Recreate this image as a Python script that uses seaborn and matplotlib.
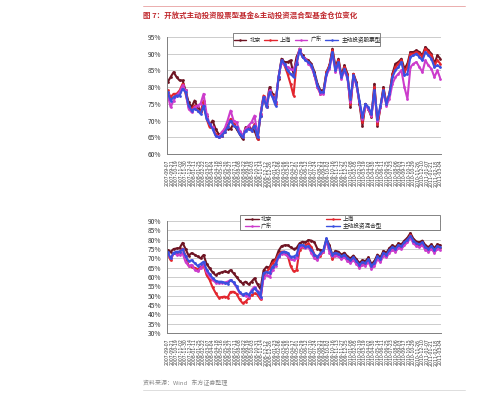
import numpy as np
import pandas as pd
import matplotlib
matplotlib.use('Agg')
import matplotlib.pyplot as plt
import seaborn as sns
from matplotlib.lines import Line2D
from matplotlib.patches import Rectangle
from matplotlib.ticker import FuncFormatter

sns.set_style('white')
plt.rcParams['font.family'] = ['Noto Sans CJK SC', 'DejaVu Sans']

title = '图 7：开放式主动投资股票型基金&主动投资混合型基金仓位变化'
source = '资料来源：Wind   东方证券整理'

dates = pd.date_range(end='2011-03-04', periods=92, freq='14D').strftime('%Y-%m-%d').tolist()

top_names = ['北京', '上海', '广东', '主动投资股票型']
bot_names = ['北京', '上海', '广东', '主动投资混合型']

top_bj = [81.5, 83, 84.5, 83, 82, 82, 79, 75.5, 74, 76, 74, 73, 74, 71.5, 68.5, 70, 67.5, 66, 65.5, 67.5,
          67.5, 67.5, 69, 67.5, 66, 64.5, 68, 68, 67.5, 67, 64.5, 71.5, 77, 74.5, 80, 78, 75.5, 82.5, 88.5, 87.5,
          87.5, 88, 84, 89, 91, 89.5, 88.5, 88, 87, 84.5, 81, 79, 79, 84.5, 86.5, 91.5, 86, 88.5, 83.5, 86.5,
          84, 74, 84, 81.5, 75, 68.5, 75, 73.5, 71, 81, 68.5, 74, 80, 75, 78, 84, 87, 87.5, 88.5, 85.5,
          87, 90.5, 90.5, 91, 90.5, 89.5, 92, 91, 90, 87, 89.5, 88.5]
top_sh = [79, 77, 78, 78, 79, 81, 78, 74, 73.5, 74.5, 73, 72.5, 76, 70.5, 68, 68, 66, 65, 65.5, 66.5,
          68.5, 70.5, 69, 68, 66.5, 65, 67.5, 67.5, 67, 69, 64.5, 72, 77.5, 74, 79, 77.5, 75, 83, 88, 86.5,
          84, 81, 77.5, 87, 91.5, 89, 88.5, 87.5, 86.5, 83.5, 80, 78, 78.5, 84.5, 86.5, 91, 85.5, 88, 83, 86,
          83.5, 75, 84, 81, 75.5, 69.5, 75, 73.5, 71.5, 80, 69, 74, 79.5, 75, 78, 83.5, 86, 87, 88, 84.5,
          86, 90, 90, 90.5, 90, 89, 91.5, 90.5, 89.5, 86.5, 88, 87]
top_gd = [78, 74, 76, 77.5, 78.5, 80.5, 79, 73.5, 72.5, 74, 74.5, 75, 78, 72, 69, 68, 65.5, 65, 66.5, 67.5,
          70, 73, 70, 69.5, 67, 65.5, 67.5, 68.5, 69.5, 71.5, 65.5, 72, 77, 75, 79, 77, 75.5, 83, 87.5, 86.5,
          86, 85.5, 85, 87.5, 91.5, 89, 88.5, 87, 86, 83.5, 80, 78, 78, 83.5, 85.5, 90, 84.5, 87, 82.5, 85,
          82.5, 75.5, 83, 80.5, 75.5, 70.5, 74.5, 73.5, 71.5, 78.5, 70, 74, 78.5, 74.5, 76.5, 81, 83, 84, 85, 80,
          76.5, 86, 87, 87.5, 86, 84.5, 88, 86.5, 85.5, 83, 85, 82.5]
top_all = [78.5, 76, 77, 77.5, 77.5, 79.5, 78.5, 74.5, 73, 73.5, 73, 72, 74.5, 70.5, 69, 67.5, 65.5, 65, 65.5, 66.5,
           68, 70, 68.5, 68, 66, 65, 67, 67.5, 67, 68.5, 65, 71.5, 77, 74, 78.5, 77, 74.5, 83, 88, 87,
           85, 84, 83, 87, 91, 89, 88, 87.5, 86.5, 84, 80.5, 78.5, 78.5, 84, 86, 90.5, 85, 87.5, 83, 85.5,
           83, 76.5, 83.5, 81, 76, 71, 75, 74, 72, 79, 70.5, 74.5, 79, 75, 78, 83, 85, 86, 87.5, 83.5,
           84, 89, 89.5, 90, 89, 88, 90.5, 89.5, 88.5, 86, 86.5, 86]

bot_bj = [74.5, 73.5, 75, 75.3, 75.5, 78.3, 75, 71.5, 72.8, 72, 71, 70, 71.8, 67, 64.8, 62.5, 61, 62, 62.5, 63,
          62.5, 63.7, 62, 60, 58, 56.5, 57.5, 56, 57.5, 59.3, 56, 53.5, 63.5, 65.5, 65, 69, 69.5, 74, 76.5, 77,
          77, 76, 75, 75.5, 78, 78.9, 78.5, 79.8, 79.5, 78.5, 75, 74.5, 74, 80.5, 77, 71.5, 74, 73.5, 72, 73,
          71, 70, 71.5, 69.5, 67.5, 69, 68.5, 70.5, 67, 68.5, 72, 70.5, 74, 73, 75.5, 77, 76, 78, 77.5, 79.5,
          81, 83.5, 80.5, 79, 78.5, 79.5, 77, 76, 77.5, 75.5, 77.5, 77]
bot_sh = [72.7, 69, 72.7, 73, 73.6, 75.2, 71.5, 66, 65.5, 65, 64, 65.5, 66.4, 61, 58.5, 54.5, 51.5, 49, 49.2, 49.5,
          49, 52, 52.1, 51, 48, 46, 46.8, 48.5, 50.3, 51.2, 50.5, 48, 61, 62.8, 64.6, 67.5, 69, 72, 73.6, 73.6,
          72, 66, 63, 63.5, 74.5, 76, 77, 78, 76, 72, 70, 71.5, 73.6, 80.2, 74.5, 69.5, 72.5, 72, 70.5, 71.5,
          69.5, 68.5, 70, 68, 65.5, 67.5, 67, 69, 65.5, 67, 70.5, 69, 72.5, 71.5, 74, 75.5, 74.5, 76.5, 76, 78,
          79.5, 82.5, 79, 77.5, 77, 78, 75.5, 74.5, 76, 74, 76, 75.5]
bot_gd = [72.7, 70, 72.7, 72, 72, 72.7, 68, 66, 66.5, 64, 63, 64.6, 67, 62.5, 60.5, 58.5, 57, 56.6, 56.8, 57,
          57.5, 58.4, 57, 54.5, 51.5, 50.3, 50, 49.5, 53, 54.8, 52.5, 49, 59.5, 61, 60, 63.7, 66, 70.5, 72.5, 72.5,
          71, 69.5, 69, 70, 76.2, 76.5, 75.5, 76, 72.7, 70, 69, 72.5, 73.6, 79.5, 73, 71, 71.5, 71, 69.5, 70.5,
          68.5, 67.5, 69, 67, 65, 66.5, 66, 68, 64.5, 66, 69.5, 68, 71.5, 70.5, 73, 74.5, 73.5, 75.5, 75, 77,
          78.5, 81, 78, 76.5, 76, 77, 74.5, 73.5, 75, 73, 75, 74.5]
bot_all = [73.6, 70, 73, 73.6, 73.6, 74.8, 71, 68.5, 69, 67.5, 66, 67, 68.2, 64, 61.5, 59.5, 58, 57.5, 57.5, 57,
           56.5, 58.2, 57.2, 55, 52, 50.6, 51.2, 50.5, 52.1, 53.9, 52, 49.5, 62, 62.8, 62, 65.5, 67, 71, 73.2, 73.6,
           73, 70.9, 70.9, 71.8, 77.1, 77.1, 76.2, 76.5, 74.5, 72, 70.9, 72.7, 74.5, 80.7, 75.4, 72, 73, 72.5, 71, 72,
           70, 69, 70.5, 68.5, 66.5, 68, 67.5, 69.5, 66, 67.5, 71, 69.5, 73, 72, 74.5, 76, 75, 77, 76.5, 78.5,
           80, 82, 79.5, 78, 77.5, 78.5, 76, 75, 76.5, 74.5, 76.5, 76]

colors = ['#6e1423', '#e3262e', '#cc3ccc', '#3a4fe0']


def long_df(series, names):
    frames = []
    for vals, name in zip(series, names):
        frames.append(pd.DataFrame({'idx': np.arange(len(vals)), 'val': vals, 'series': name}))
    return pd.concat(frames, ignore_index=True)


fig = plt.figure(figsize=(5.0, 3.95), dpi=100)
W, H = 500.0, 395.0


def axrect(x0, x1, ytop, ybot):
    return [x0 / W, 1 - ybot / H, (x1 - x0) / W, (ybot - ytop) / H]


ax1 = fig.add_axes(axrect(167, 441, 37, 154))
ax2 = fig.add_axes(axrect(167, 441, 221, 333))

tick_pos = np.linspace(0, 91, 62)
tick_lab = [dates[int(round(p))] for p in tick_pos]


def style_ax(ax, lo, hi, step):
    ax.set_ylim(lo, hi)
    ax.set_xlim(-0.2, 91.2)
    ax.set_yticks(np.arange(lo, hi + 0.1, step))
    ax.yaxis.set_major_formatter(FuncFormatter(lambda v, p: f'{v:.0f}%'))
    ax.grid(axis='y', color='#c4c4c4', linewidth=0.6)
    ax.grid(axis='x', visible=False)
    for s in ['top', 'right']:
        ax.spines[s].set_visible(False)
    ax.spines['left'].set_color('#808080')
    ax.spines['left'].set_linewidth(0.7)
    ax.spines['bottom'].set_color('#808080')
    ax.spines['bottom'].set_linewidth(0.7)
    ax.tick_params(axis='y', length=0, pad=4, labelsize=4.8, labelcolor='#333333')
    ax.set_xticks(tick_pos)
    ax.set_xticklabels(tick_lab, rotation=90, fontsize=3.3, color='#3a3a3a', family='DejaVu Sans')
    ax.tick_params(axis='x', length=2, width=0.4, color='#808080', pad=2)
    ax.set_xlabel('')
    ax.set_ylabel('')
    ax.set_axisbelow(True)


for ax, series, names, lo, hi in [(ax1, [top_bj, top_sh, top_gd, top_all], top_names, 60, 95),
                                  (ax2, [bot_bj, bot_sh, bot_gd, bot_all], bot_names, 30, 90)]:
    df = long_df(series, names)
    sns.lineplot(data=df, x='idx', y='val', hue='series', hue_order=names,
                 palette=dict(zip(names, colors)), marker='o', markersize=2.0,
                 markeredgewidth=0, linewidth=1.5, legend=False, ax=ax, sort=False)
    style_ax(ax, lo, hi, 5)


def handles(names):
    return [Line2D([0], [0], color=c, lw=1.0, marker='o', ms=1.8, mew=0) for c in colors]


fig.add_artist(Rectangle((232.5 / W, 1 - 45.5 / H), (380 - 232.5) / W, 12.5 / H,
                         transform=fig.transFigure, facecolor='white', edgecolor='#707070', lw=0.6, zorder=3))
leg1 = fig.legend(handles(top_names), top_names, loc='center left',
                  bbox_to_anchor=(233.5 / W, 1 - 39.5 / H), ncol=4, frameon=False,
                  fontsize=4.1, handlelength=2.2, handletextpad=0.6, columnspacing=0.6,
                  borderpad=0, borderaxespad=0)
leg1.set_zorder(4)

fig.add_artist(Rectangle((239.5 / W, 1 - 229.5 / H), (440 - 239.5) / W, 14.5 / H,
                         transform=fig.transFigure, facecolor='white', edgecolor='#707070', lw=0.6, zorder=3))
order = [0, 2, 1, 3]
leg2 = fig.legend([handles(bot_names)[i] for i in order], [bot_names[i] for i in order],
                  loc='center left', bbox_to_anchor=(245 / W, 1 - 222.5 / H), ncol=2, frameon=False,
                  fontsize=4.1, handlelength=2.4, handletextpad=0.4, columnspacing=9.5,
                  labelspacing=0.15, borderpad=0, borderaxespad=0)
leg2.set_zorder(4)

fig.add_artist(Line2D([143 / W, 465 / W], [1 - 6 / H, 1 - 6 / H], transform=fig.transFigure,
                      color='#e8a0a0', lw=0.6))
fig.text(143 / W, 1 - 15 / H, title, fontsize=5.4, color='#c0282d', fontweight='bold', va='center', ha='left')
fig.text(143 / W, 1 - 383 / H, source, fontsize=4.3, color='#8a8a8a', va='center', ha='left')
fig.add_artist(Line2D([143 / W, 465 / W], [1 - 390 / H, 1 - 390 / H], transform=fig.transFigure,
                      color='#d8d8d8', lw=0.6))

fig.savefig('out.png', dpi=100, facecolor='white')
